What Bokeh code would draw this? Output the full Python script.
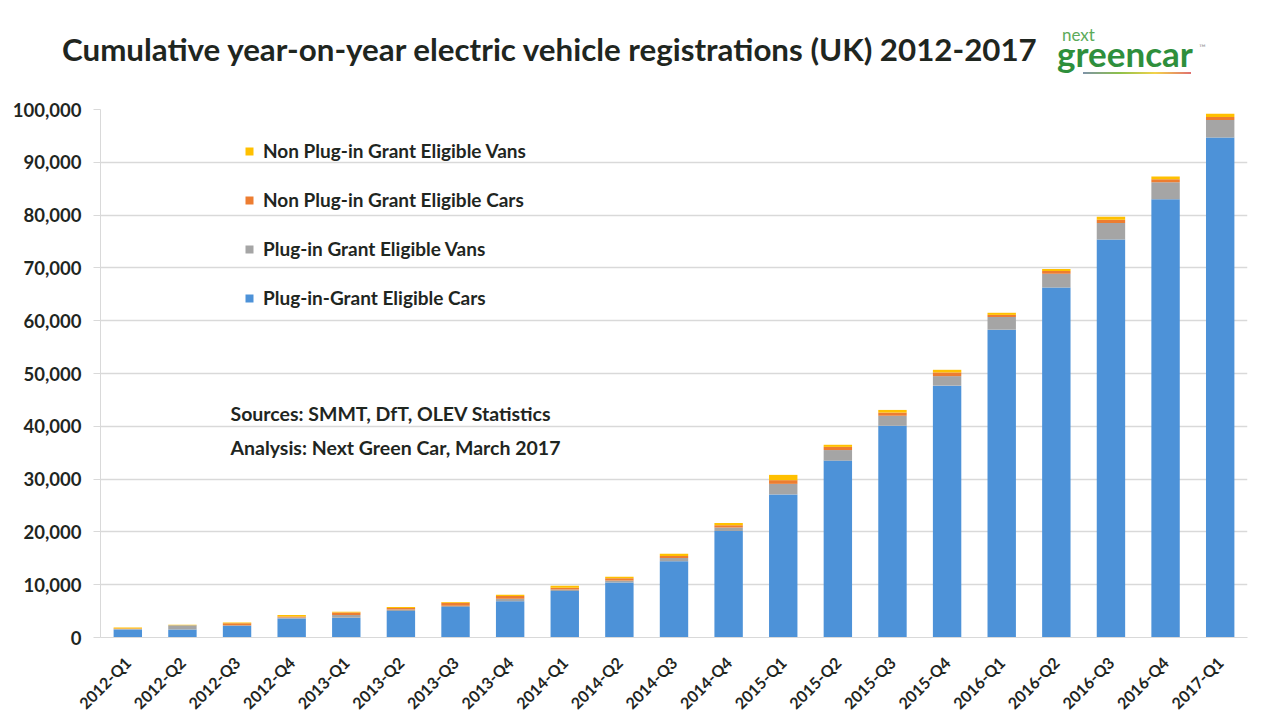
from bokeh.plotting import figure
from bokeh.models import (ColumnDataSource, FactorRange, Range1d, FixedTicker,
                          NumeralTickFormatter, Legend, LegendItem, Label, Div)
from bokeh.layouts import column
from bokeh.embed import file_html
from bokeh.resources import INLINE

quarters = ["2012-Q1", "2012-Q2", "2012-Q3", "2012-Q4",
            "2013-Q1", "2013-Q2", "2013-Q3", "2013-Q4",
            "2014-Q1", "2014-Q2", "2014-Q3", "2014-Q4",
            "2015-Q1", "2015-Q2", "2015-Q3", "2015-Q4",
            "2016-Q1", "2016-Q2", "2016-Q3", "2016-Q4",
            "2017-Q1"]
plugin_cars = [1500, 1500, 2200, 3600, 3750, 5000, 5800, 6850, 8800, 10400, 14450,
               20150, 27100, 33500, 40100, 47700, 58300, 66300, 75400, 83000, 94700]
plugin_vans = [100, 800, 100, 200, 500, 300, 200, 500, 300, 400, 600,
               700, 2000, 2000, 1900, 1800, 2400, 2600, 3100, 3200, 3300]
non_plugin_cars = [100, 0, 400, 200, 500, 300, 600, 500, 300, 400, 400,
                   400, 700, 600, 600, 700, 400, 500, 600, 600, 600]
non_plugin_vans = [200, 100, 150, 250, 150, 200, 100, 250, 400, 300, 400,
                   450, 1000, 400, 500, 500, 400, 400, 600, 500, 600]
series_names = ["Plug-in-Grant Eligible Cars", "Plug-in Grant Eligible Vans",
                "Non Plug-in Grant Eligible Cars", "Non Plug-in Grant Eligible Vans"]
y_ticks = list(range(0, 100001, 10000))
title_text = "Cumulative year-on-year electric vehicle registrations (UK) 2012-2017"

colors = ["#4d92d8", "#a5a5a5", "#ed7d31", "#ffc000"]
keys = ["cars", "vans", "npcars", "npvans"]
source = ColumnDataSource(dict(q=quarters, cars=plugin_cars, vans=plugin_vans,
                               npcars=non_plugin_cars, npvans=non_plugin_vans))

FONT = "Lato"
TXT = "#1f261f"
W = 1255
HEAD_H = 99

head_html = f"""
<div style="position:relative;width:{W}px;height:{HEAD_H}px;font-family:Lato;">
  <span style="position:absolute;left:62px;top:34px;font-size:31.3px;line-height:1;font-weight:bold;color:{TXT};white-space:nowrap;">{title_text}</span>
  <div style="position:absolute;left:1062px;top:29px;height:12px;font-size:17px;line-height:12px;color:#5cab5a;white-space:nowrap;">next</div>
  <div style="position:absolute;left:1057px;top:42px;height:22px;font-size:35px;line-height:22px;font-weight:bold;color:#2e8f3c;white-space:nowrap;">greencar</div>
  <div style="position:absolute;left:1199px;top:44px;height:8px;font-size:9px;line-height:8px;color:#999999;">&#8482;</div>
  <div style="position:absolute;left:1083px;top:72px;width:108px;height:2px;background:linear-gradient(to right,#7f93a8,#8cc04b,#f3d34a,#e07070);"></div>
</div>
"""
head = Div(text=head_html, width=W, height=HEAD_H, margin=0)

p = figure(width=W, height=623, x_range=FactorRange(*quarters, range_padding=0),
           y_range=Range1d(y_ticks[0], y_ticks[-1]), output_backend="svg", toolbar_location=None,
           min_border_left=100, min_border_right=8, min_border_top=10, min_border_bottom=85,
           margin=0)
p.outline_line_color = None
p.background_fill_color = "white"
p.border_fill_color = "white"

rs = p.vbar_stack(keys, x="q", width=0.52, color=colors, line_color=None, source=source)

legend = Legend(items=[LegendItem(label=series_names[i], renderers=[rs[i]]) for i in [3, 2, 1, 0]],
                location=(144, 328), padding=0, margin=0, spacing=26,
                glyph_width=10, glyph_height=10, label_height=20, label_standoff=9,
                label_text_font=FONT, label_text_font_style="bold",
                label_text_font_size="19px", label_text_color=TXT,
                border_line_color=None, background_fill_alpha=0)
p.add_layout(legend, "center")

p.yaxis.ticker = FixedTicker(ticks=y_ticks)
p.yaxis.formatter = NumeralTickFormatter(format="0,0")
p.yaxis.axis_line_color = "#d9d9d9"
p.yaxis.major_tick_line_color = "#d9d9d9"
p.yaxis.major_tick_out = 7
p.yaxis.major_tick_in = 0
p.yaxis.minor_tick_line_color = None
p.yaxis.major_label_standoff = 12
p.yaxis.major_label_text_font = FONT
p.yaxis.major_label_text_font_style = "bold"
p.yaxis.major_label_text_font_size = "18.5px"
p.yaxis.major_label_text_color = TXT

p.xaxis.axis_line_color = "#d9d9d9"
p.xaxis.major_tick_line_color = None
p.xaxis.major_label_orientation = 0.785398
p.xaxis.major_label_standoff = 16
p.xaxis.major_label_text_font = FONT
p.xaxis.major_label_text_font_style = "bold"
p.xaxis.major_label_text_font_size = "16px"
p.xaxis.major_label_text_color = TXT

p.xgrid.grid_line_color = None
p.ygrid.grid_line_color = "#d9d9d9"
p.ygrid.grid_line_width = 1.5

def lab(text, x, y, size, color=TXT, style="bold"):
    p.add_layout(Label(x=x, y=y, x_units="screen", y_units="screen", text=text,
                       text_font=FONT, text_font_style=style, text_font_size=size,
                       text_color=color, text_align="left", text_baseline="middle"))

lab("Sources: SMMT, DfT, OLEV Statistics", 130, 224, "19.5px")
lab("Analysis: Next Green Car, March 2017", 130, 190, "19.5px")

layout = column(head, p, spacing=0, margin=0)
open("out.html", "w").write(file_html(layout, INLINE))
